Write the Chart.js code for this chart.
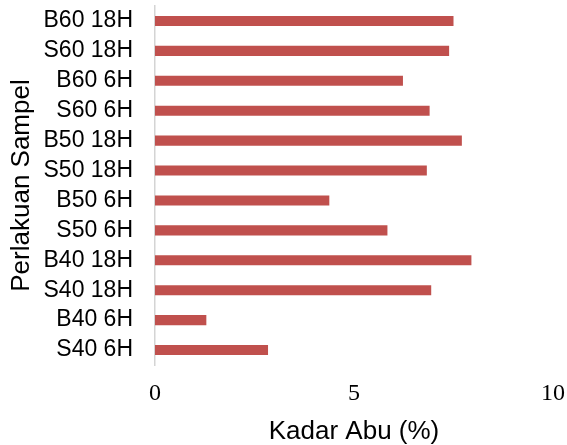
<!DOCTYPE html>
<html>
<head>
<meta charset="utf-8">
<script src="https://cdn.jsdelivr.net/npm/chart.js@4"></script>
<style>
  html, body { margin: 0; padding: 0; background: #fff; overflow: hidden; }
  #wrap { width: 567px; height: 445px; }
  canvas { display: block; }
</style>
</head>
<body>
<div id="wrap"><canvas id="ashChart" width="567" height="445"></canvas></div>
<script>
// categories, top to bottom as in the figure
const sampleLabels = ['B60 18H', 'S60 18H', 'B60 6H', 'S60 6H', 'B50 18H', 'S50 18H',
                      'B50 6H', 'S50 6H', 'B40 18H', 'S40 18H', 'B40 6H', 'S40 6H'];
// ash content (%)
const ashValues = [7.50, 7.39, 6.23, 6.90, 7.71, 6.83, 4.38, 5.84, 7.95, 6.94, 1.29, 2.84];
const xTicks = [0, 5, 10];

const ctx = document.getElementById('ashChart').getContext('2d');
const chart = new Chart(ctx, {
    type: 'bar',
    data: {
        labels: sampleLabels,
        datasets: [{
            label: 'Kadar Abu',
            data: ashValues,
            backgroundColor: '#C0504D',
            borderWidth: 0,
            barPercentage: 0.67,
            categoryPercentage: 0.5
        }]
    },
    options: {
        indexAxis: 'y',
        responsive: false,
        animation: false,
        devicePixelRatio: 1,
        layout: {
            padding: { top: 6, right: 14, left: 0, bottom: 0 }
        },
        plugins: {
            legend: { display: false },
            tooltip: { enabled: false }
        },
        scales: {
            x: {
                min: 0,
                max: 10,
                afterBuildTicks: function(scale) {
                    scale.ticks = xTicks.map(v => ({ value: v }));
                },
                afterFit: function(scale) {
                    scale.height = 80;
                    scale.paddingLeft = 0;
                    scale.paddingRight = 0;
                },
                grid: { display: false },
                border: { display: false },
                ticks: {
                    color: '#000',
                    padding: 6,
                    maxRotation: 0,
                    font: { family: "'Liberation Serif', 'Times New Roman', serif", size: 24 }
                },
                title: {
                    display: true,
                    text: 'Kadar Abu (%)',
                    color: '#000',
                    padding: { top: 0, bottom: 0 },
                    font: { family: "'Liberation Sans', Arial, sans-serif", size: 26, lineHeight: 1 }
                }
            },
            y: {
                afterFit: function(scale) {
                    scale.width = 155;
                    scale.paddingTop = 0;
                    scale.paddingBottom = 0;
                },
                grid: { display: false },
                border: { display: true, color: '#d4d4d4', width: 1.5 },
                ticks: {
                    color: '#000',
                    padding: 14,
                    autoSkip: false,
                    font: { family: "'Liberation Sans', Arial, sans-serif", size: 23 }
                },
                title: {
                    display: true,
                    text: 'Perlakuan Sampel',
                    color: '#000',
                    padding: { top: 6, bottom: 0 },
                    font: { family: "'Liberation Sans', Arial, sans-serif", size: 26 }
                }
            }
        }
    }
});
</script>
</body>
</html>
